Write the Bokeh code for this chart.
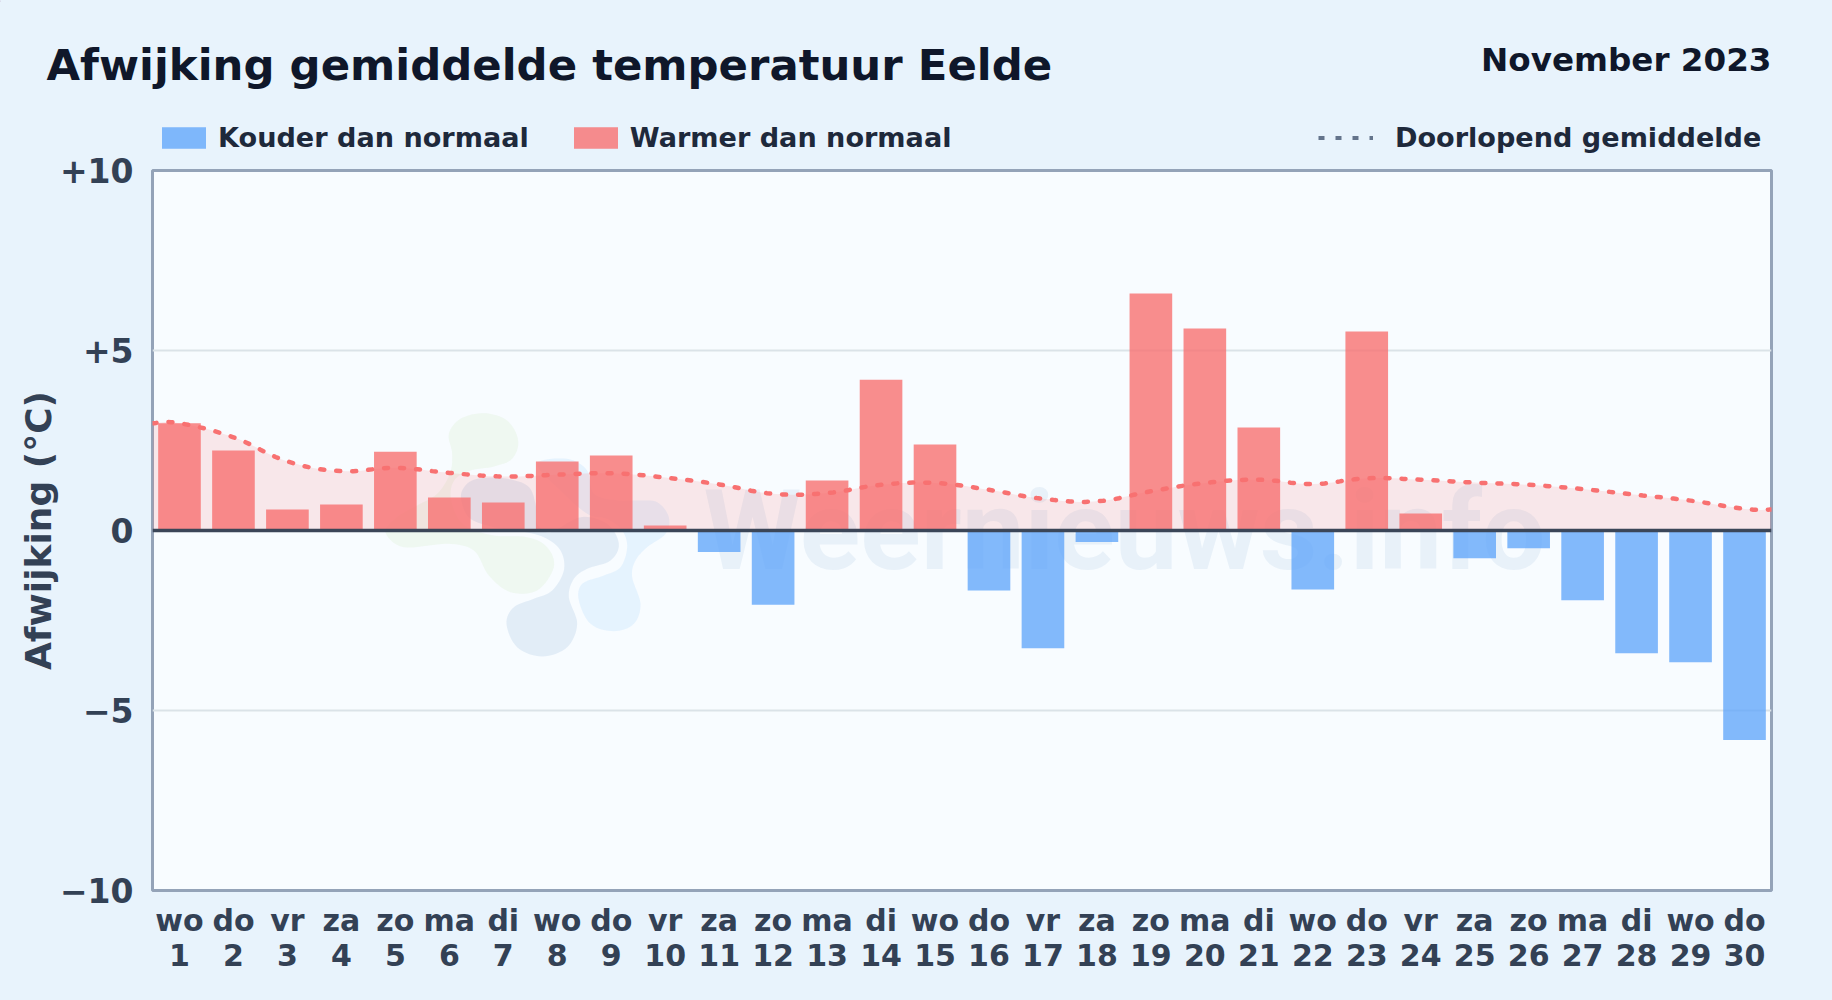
from bokeh.plotting import figure
from bokeh.layouts import column
from bokeh.embed import file_html
from bokeh.resources import INLINE
from bokeh.core.properties import value
from bokeh.models import (ColumnDataSource, FixedTicker, Legend, LegendItem,
                          LinearAxis, Range1d, Span)

TITLE = "Afwijking gemiddelde temperatuur Eelde"
PERIOD = "November 2023"
Y_LABEL = "Afwijking (°C)"
LABEL_COLD = "Kouder dan normaal"
LABEL_WARM = "Warmer dan normaal"
LABEL_MEAN = "Doorlopend gemiddelde"
WATERMARK = "Weernieuws.info"

day_numbers = list(range(1, 31))
day_names = ["wo", "do", "vr", "za", "zo", "ma", "di", "wo", "do", "vr", "za", "zo", "ma", "di", "wo",
             "do", "vr", "za", "zo", "ma", "di", "wo", "do", "vr", "za", "zo", "ma", "di", "wo", "do"]
deviation = [2.98, 2.22, 0.58, 0.72, 2.19, 0.92, 0.78, 1.92, 2.08, 0.14, -0.60, -2.06, 1.39, 4.19, 2.39,
             -1.67, -3.27, -0.32, 6.58, 5.61, 2.86, -1.64, 5.53, 0.47, -0.77, -0.49, -1.94, -3.41, -3.66, -5.82]
running_x = [0.5] + day_numbers + [30.5]
running_mean = [2.98, 2.98, 2.59, 1.92, 1.65, 1.74, 1.60, 1.50, 1.55, 1.59, 1.47, 1.28, 1.02, 1.04, 1.27, 1.32,
                1.13, 0.88, 0.81, 1.09, 1.32, 1.41, 1.29, 1.45, 1.41, 1.33, 1.27, 1.15, 0.99, 0.83, 0.60, 0.58]
y_ticks = [-10, -5, 0, 5, 10]
y_tick_labels = {-10: "\u221210", -5: "\u22125", 0: "0", 5: "+5", 10: "+10"}

BG = "#e8f3fc"
PLOT_BG = "#f8fcff"
RED = "#f87171"
BLUE = "#60a5fa"
W, H = 1832, 1000
HEADER = 156      # height of the header strip
OVERLAP = 10      # the chart's transparent border starts this far inside the strip
LEFT, RIGHT, TOP, BOTTOM = 152, 1771, 170, 890
FONT = "DejaVu Sans"


def dx(px):
    return 0.5 + (px - LEFT) * 30 / (RIGHT - LEFT)


def dy(py):
    return 10 - (py - TOP) * 20 / (BOTTOM - TOP)


def smooth_open(xs, ys, t=0.4, n=10):
    """Draws the line through its points with a curve tension, as the original line does."""
    ox, oy = [], []
    m = len(xs)
    for i in range(m - 1):
        a, b = max(i - 1, 0), min(i + 2, m - 1)
        c1x = xs[i] + t * (xs[i + 1] - xs[a]) / 2
        c1y = ys[i] + t * (ys[i + 1] - ys[a]) / 2
        c2x = xs[i + 1] - t * (xs[b] - xs[i]) / 2
        c2y = ys[i + 1] - t * (ys[b] - ys[i]) / 2
        for k in range(n):
            u = k / n
            v = 1 - u
            ox.append(v**3 * xs[i] + 3 * v * v * u * c1x + 3 * v * u * u * c2x + u**3 * xs[i + 1])
            oy.append(v**3 * ys[i] + 3 * v * v * u * c1y + 3 * v * u * u * c2y + u**3 * ys[i + 1])
    ox.append(xs[-1])
    oy.append(ys[-1])
    return ox, oy


def smooth_closed(pts, n=8):
    ox, oy = [], []
    m = len(pts)
    for i in range(m):
        p0, p1, p2, p3 = pts[i - 1], pts[i], pts[(i + 1) % m], pts[(i + 2) % m]
        for k in range(n):
            u = k / n
            for out, c in ((ox, 0), (oy, 1)):
                out.append(0.5 * (2 * p1[c] + (p2[c] - p0[c]) * u
                                  + (2 * p0[c] - 5 * p1[c] + 4 * p2[c] - p3[c]) * u * u
                                  + (3 * p1[c] - p0[c] - 3 * p2[c] + p3[c]) * u ** 3))
    return ox, oy


# header strip: title, period and legends
head = figure(width=W, height=HEADER, output_backend="svg", toolbar_location=None,
              x_range=Range1d(0, W), y_range=Range1d(HEADER, 0),
              x_axis_location=None, y_axis_location=None, min_border=0,
              background_fill_color=BG, border_fill_color=BG, outline_line_color=None,
              frame_align=False)
head.xgrid.visible = False
head.ygrid.visible = False
head.text(x=[46], y=[64], text=[TITLE], text_font=value(FONT), text_font_style="bold", text_font_size="43.4px",
          text_color="#0f172a", text_baseline="alphabetic", text_align="left")
head.text(x=[1771], y=[59], text=[PERIOD], text_font=value(FONT), text_font_style="bold", text_font_size="32.6px",
          text_color="#0f172a", text_baseline="alphabetic", text_align="right")
# legend keys: their only point lies outside the visible range, only the key shows
key_cold = head.vbar(x=[-500], top=[1], width=1, fill_color=BLUE, fill_alpha=0.78, line_color=None)
key_warm = head.vbar(x=[-500], top=[1], width=1, fill_color=RED, fill_alpha=0.8, line_color=None)
key_mean = head.line([-500, -400], [1, 1], line_color="#64748b", line_width=4, line_dash="6 11")

legend_left = Legend(items=[LegendItem(label=LABEL_COLD, renderers=[key_cold]),
                            LegendItem(label=LABEL_WARM, renderers=[key_warm])],
                     orientation="horizontal", location=(156, 3), spacing=39,
                     glyph_width=55, label_standoff=7)
legend_right = Legend(items=[LegendItem(label=LABEL_MEAN, renderers=[key_mean])],
                      orientation="horizontal", location=(1318, 3),
                      glyph_width=55, label_standoff=22)
for legend in (legend_left, legend_right):
    legend.background_fill_alpha = 0
    legend.border_line_color = None
    legend.padding = 0
    legend.margin = 0
    legend.glyph_height = 27
    legend.label_text_font = FONT
    legend.label_text_font_style = "bold"
    legend.label_text_font_size = "27.1px"
    legend.label_text_color = "#1e293b"
    head.add_layout(legend, "center")

p = figure(width=W, height=H - HEADER + OVERLAP, output_backend="svg", toolbar_location=None,
           x_range=Range1d(0.5, 30.5), y_range=Range1d(-10, 10),
           min_border_left=LEFT, min_border_right=W - RIGHT,
           min_border_top=TOP - HEADER + OVERLAP, min_border_bottom=H - BOTTOM,
           background_fill_color=PLOT_BG, border_fill_alpha=0,
           outline_line_color="#94a3b8", outline_line_width=3,
           frame_align=False, margin=(-OVERLAP, 0, 0, 0))

# watermark: logo and name, drawn faintly below the data
logo_shapes = [
    ("#dcefd2", 0.30, [(370, 68), (440, 90), (473, 150), (455, 205), (400, 228), (330, 240), (285, 265), (270, 310),
                       (285, 370), (320, 410), (400, 435), (500, 440), (560, 470), (580, 530), (530, 600), (450, 605),
                       (385, 555), (340, 480), (260, 460), (130, 470), (75, 425), (110, 380), (170, 345), (230, 310),
                       (268, 250), (275, 190), (265, 130), (300, 85)]),
    ("#bcd3ea", 0.36, [(305, 300), (340, 268), (420, 262), (500, 285), (525, 340), (530, 400), (570, 425), (660, 380),
                       (740, 400), (775, 460), (750, 510), (680, 535), (640, 565), (625, 620), (650, 700), (620, 770),
                       (545, 798), (470, 770), (438, 700), (460, 650), (520, 625), (575, 600), (610, 540), (600, 480),
                       (550, 440), (470, 420), (400, 410), (330, 385), (305, 340)]),
    ("#c4e4fb", 0.36, [(830, 330), (890, 335), (925, 380), (915, 430), (860, 470), (825, 510), (815, 560), (840, 640),
                       (820, 700), (760, 722), (690, 700), (655, 630), (665, 580), (730, 555), (780, 530), (800, 470),
                       (785, 420), (740, 385), (680, 370), (600, 300), (530, 220), (620, 205), (680, 240), (700, 310),
                       (770, 330)]),
]
for color, alpha, pts in logo_shapes:
    sx, sy = smooth_closed(pts)
    p.patch([dx(360 + a / 3) for a in sx], [dy(390 + b / 3) for b in sy],
            fill_color=color, fill_alpha=alpha, line_color=None)
p.text(x=[dx(703)], y=[dy(530)], text=[WATERMARK], text_font=value("Roboto"), text_font_size="112px",
       text_font_style="bold", text_color="#2f6db5", text_alpha=0.08,
       text_align="left", text_baseline="alphabetic")

# running mean: area below, bars, then the line on top
line_x, line_y = smooth_open(running_x, running_mean)
p.varea(x=line_x, y1=[0] * len(line_x), y2=line_y, fill_color=RED, fill_alpha=0.15)

warm = ColumnDataSource(dict(x=[d for d, v in zip(day_numbers, deviation) if v >= 0],
                             top=[v for v in deviation if v >= 0]))
cold = ColumnDataSource(dict(x=[d for d, v in zip(day_numbers, deviation) if v < 0],
                             top=[v for v in deviation if v < 0]))
p.vbar(x="x", top="top", bottom=0, width=0.79, source=warm, fill_color=RED, fill_alpha=0.8, line_color=None)
p.vbar(x="x", top="top", bottom=0, width=0.79, source=cold, fill_color=BLUE, fill_alpha=0.78, line_color=None)

p.line(line_x, line_y, line_color=RED, line_width=4.5, line_dash="4 12", line_cap="round")

p.add_layout(Span(location=0, dimension="width", line_color="#3b4658", line_width=3.5))

# grid
p.xgrid.visible = False
p.ygrid.ticker = FixedTicker(ticks=[-5, 5])
p.ygrid.grid_line_color = "#dbe3e8"
p.ygrid.grid_line_width = 2

# y axis
ya = p.yaxis[0]
ya.ticker = FixedTicker(ticks=y_ticks)
ya.major_label_overrides = y_tick_labels
ya.axis_line_color = None
ya.major_tick_line_color = None
ya.minor_tick_line_color = None
ya.major_label_standoff = 13
ya.major_label_text_font = FONT
ya.major_label_text_font_style = "bold"
ya.major_label_text_font_size = "33px"
ya.major_label_text_color = "#334155"
ya.axis_label = Y_LABEL
ya.axis_label_text_font = FONT
ya.axis_label_text_font_style = "bold"
ya.axis_label_text_font_size = "36px"
ya.axis_label_text_color = "#334155"
ya.axis_label_standoff = -2

# x axes: weekday row and date row
xa = p.xaxis[0]
xb = LinearAxis()
p.add_layout(xb, "below")
for ax, labels in ((xa, day_names), (xb, [str(d) for d in day_numbers])):
    ax.ticker = FixedTicker(ticks=day_numbers)
    ax.major_label_overrides = dict(zip(day_numbers, labels))
    ax.axis_line_color = None
    ax.major_tick_line_color = None
    ax.minor_tick_line_color = None
    ax.major_label_text_font = FONT
    ax.major_label_text_font_style = "bold"
    ax.major_label_text_font_size = "30px"
    ax.major_label_text_color = "#334155"
xa.major_label_standoff = 6
xb.major_label_standoff = -3

page = column(head, p, spacing=0)
html = file_html(page, INLINE)
html = html.replace("<head>", "<head><style>html,body{margin:0;padding:0;background:%s;overflow:hidden}</style>" % BG, 1)
open("out.html", "w").write(html)
